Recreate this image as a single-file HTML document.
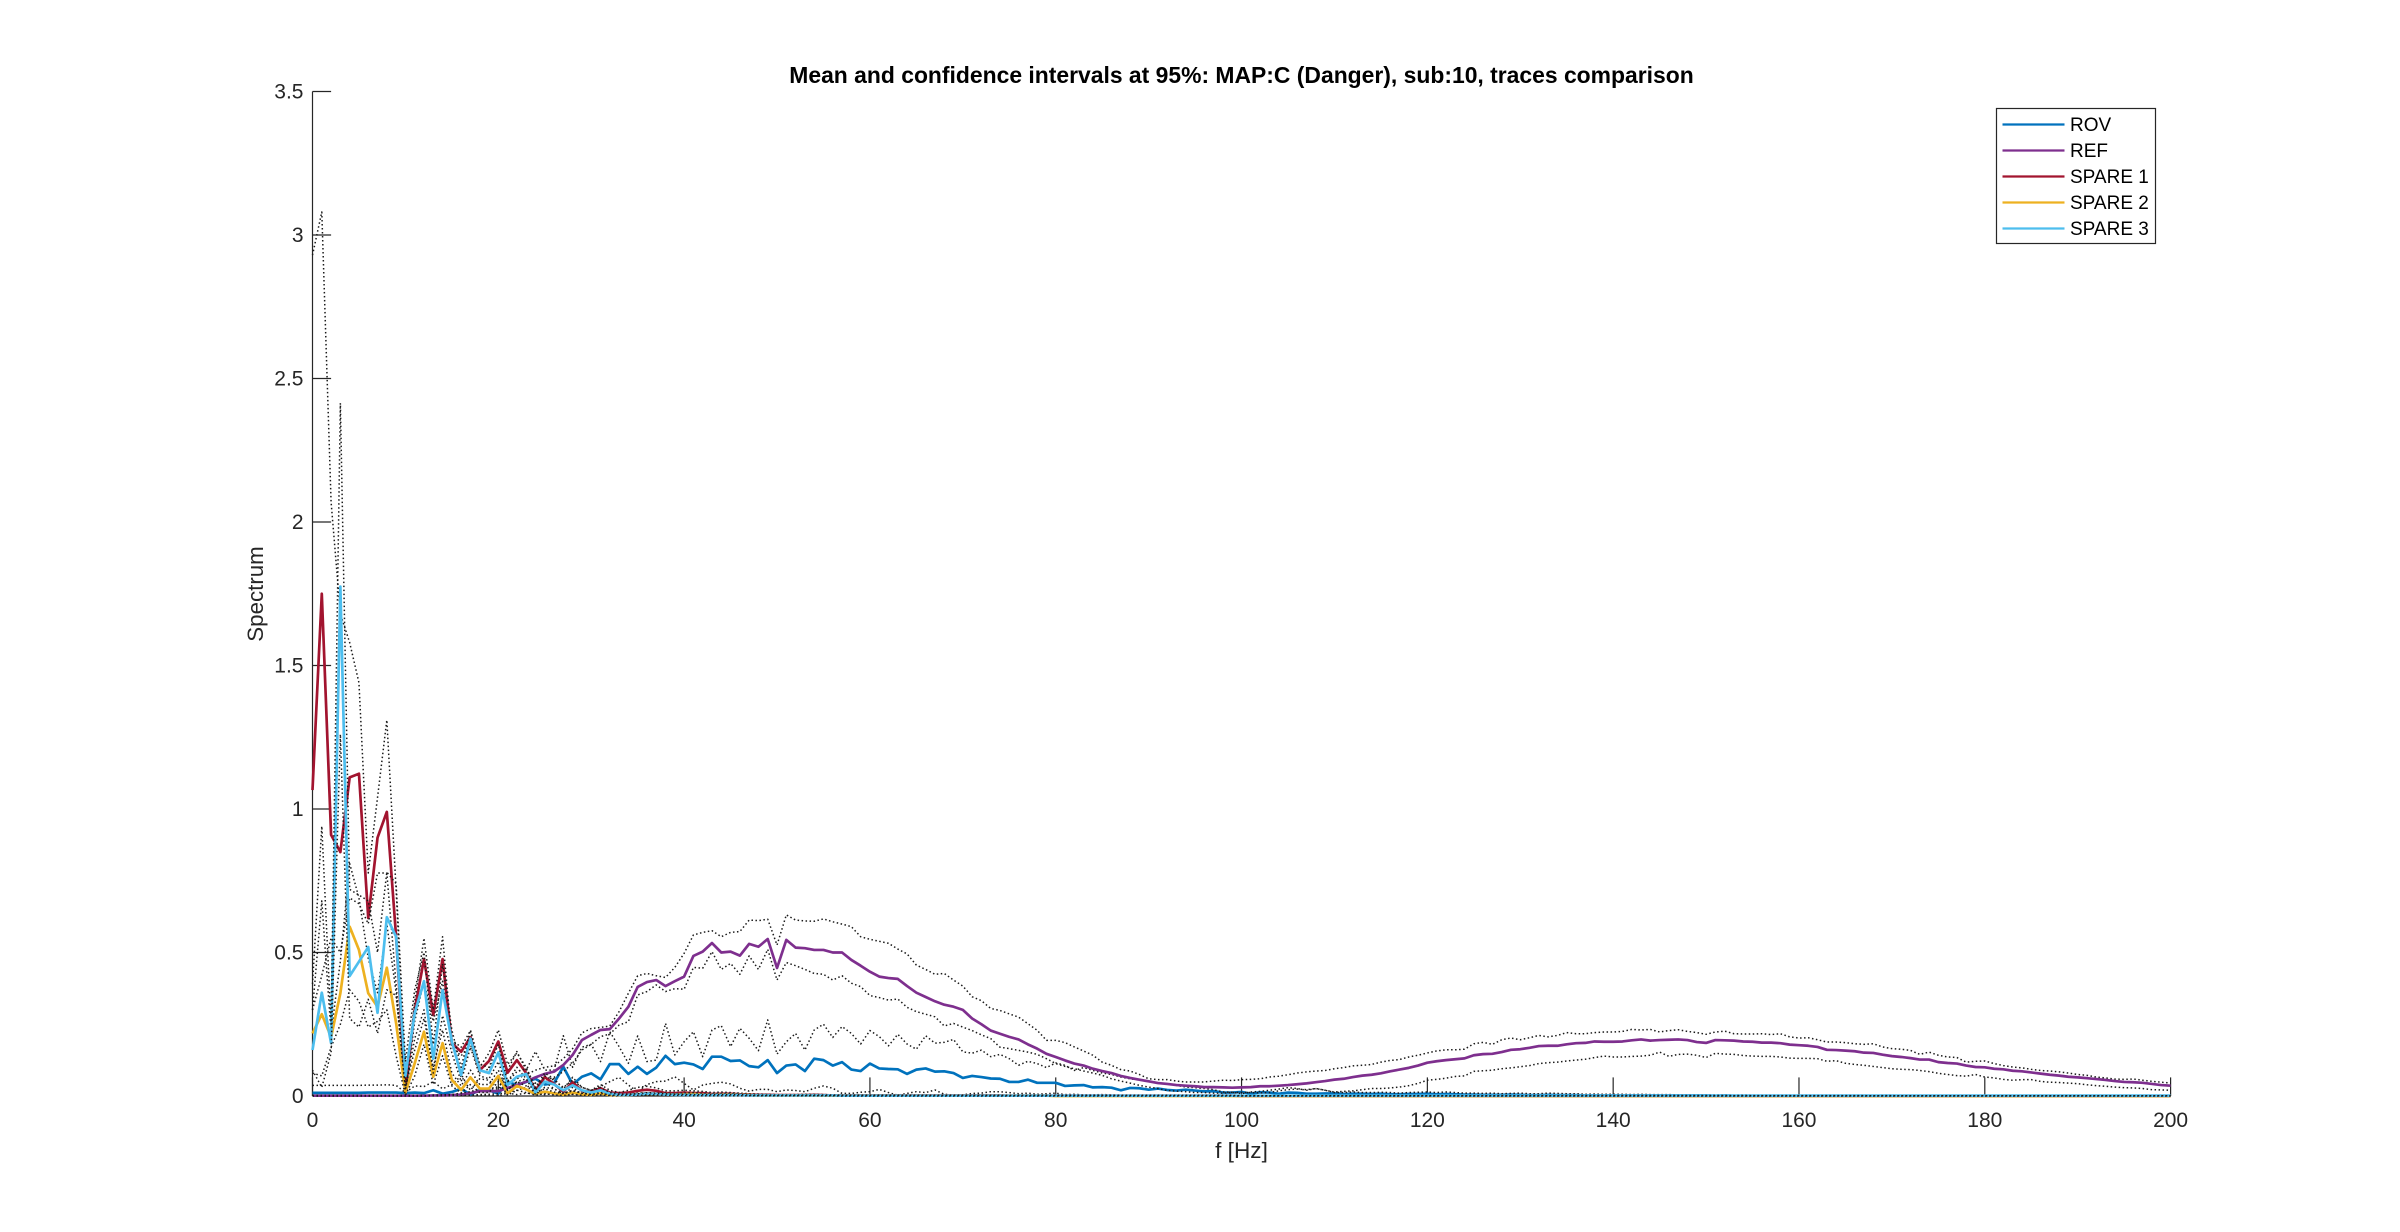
<!DOCTYPE html>
<html>
<head>
<meta charset="utf-8">
<title>Spectrum comparison</title>
<style>
html,body{margin:0;padding:0;background:#fff;}
svg{display:block;font-family:"Liberation Sans",Arial,sans-serif;}
</style>
</head>
<body>
<svg id="chart" xmlns="http://www.w3.org/2000/svg" width="2400" height="1232" viewBox="0 0 2400 1232">
<rect x="0" y="0" width="2400" height="1232" fill="#fff"/>
<text x="1241.5" y="83" text-anchor="middle" font-size="22.9" font-weight="bold" fill="#000">Mean and confidence intervals at 95%: MAP:C (Danger), sub:10, traces comparison</text>
<text x="1241.5" y="1158" text-anchor="middle" font-size="22.6" fill="#262626">f [Hz]</text>
<text transform="translate(263,594) rotate(-90)" text-anchor="middle" font-size="22.3" fill="#262626">Spectrum</text>
<g id="axes"></g>
<g id="marks"></g>
<g>
<rect x="1996.5" y="108.5" width="159" height="135" fill="#fff" stroke="#262626" stroke-width="1.2"/>
<g><line x1="2002.5" y1="124.5" x2="2064.5" y2="124.5" stroke="#0072BD" stroke-width="2.2"/><text x="2070" y="131" font-size="19" fill="#000">ROV</text></g>
<g><line x1="2002.5" y1="150.5" x2="2064.5" y2="150.5" stroke="#7E2F8E" stroke-width="2.2"/><text x="2070" y="157" font-size="19" fill="#000">REF</text></g>
<g><line x1="2002.5" y1="176.5" x2="2064.5" y2="176.5" stroke="#A2142F" stroke-width="2.2"/><text x="2070" y="183" font-size="19" fill="#000">SPARE 1</text></g>
<g><line x1="2002.5" y1="202.5" x2="2064.5" y2="202.5" stroke="#EDB120" stroke-width="2.2"/><text x="2070" y="209" font-size="19" fill="#000">SPARE 2</text></g>
<g><line x1="2002.5" y1="228.5" x2="2064.5" y2="228.5" stroke="#4DBEEE" stroke-width="2.2"/><text x="2070" y="235" font-size="19" fill="#000">SPARE 3</text></g>
</g>
</svg>
<script>
const xTickValues = [0,20,40,60,80,100,120,140,160,180,200];
const yTickValues = [0,0.5,1,1.5,2,2.5,3,3.5];
const yTickLabels = ["0","0.5","1","1.5","2","2.5","3","3.5"];

const frequencies = [
0,1,2,3,4,5,6,7,8,9,10,11,12,13,14,15,16,17,18,19,
20,21,22,23,24,25,26,27,28,29,30,31,32,33,34,35,36,37,38,39,
40,41,42,43,44,45,46,47,48,49,50,51,52,53,54,55,56,57,58,59,
60,61,62,63,64,65,66,67,68,69,70,71,72,73,74,75,76,77,78,79,
80,81,82,83,84,85,86,87,88,89,90,91,92,93,94,95,96,97,98,99,
100,101,102,103,104,105,106,107,108,109,110,111,112,113,114,115,116,117,118,119,
120,121,122,123,124,125,126,127,128,129,130,131,132,133,134,135,136,137,138,139,
140,141,142,143,144,145,146,147,148,149,150,151,152,153,154,155,156,157,158,159,
160,161,162,163,164,165,166,167,168,169,170,171,172,173,174,175,176,177,178,179,
180,181,182,183,184,185,186,187,188,189,190,191,192,193,194,195,196,197,198,199,200];

const rovMean = [
.011,.011,.011,.011,.011,.011,.012,.012,.012,.012,
.01,.012,.01,.02,.008,.014,.025,.005,.02,.02,
.008,.049,.038,.049,.06,.04,.045,.102,.04,.067,
.079,.058,.111,.111,.077,.102,.077,.099,.14,.111,
.116,.11,.094,.137,.137,.122,.124,.104,.1,.125,
.08,.106,.11,.087,.13,.125,.106,.118,.092,.087,
.113,.096,.094,.093,.077,.092,.096,.085,.086,.08,
.063,.07,.066,.061,.06,.049,.049,.057,.046,.046,
.046,.035,.037,.038,.03,.031,.029,.02,.028,.027,
.022,.026,.021,.019,.022,.019,.016,.017,.012,.012,
.014,.008,.013,.012,.008,.012,.011,.008,.008,.009,
.009,.007,.008,.008,.007,.008,.006,.006,.007,.007,
.008,.006,.007,.006,.005,.005,.004,.004,.004,.005,
.004,.003,.003,.004,.003,.003,.003,.002,.002,.002,
.002,.002,.002,.002,.002,.002,.002,.002,.002,.002,
.002,.001,.002,.001,.001,.001,.001,.001,.001,.001,
.001,.001,.001,.001,.001,.001,.001,.001,.001,.001,
.001,.001,.001,.001,.001,.001,.001,.001,.001,.001,
.001,.001,.001,.001,.001,.001,.001,.001,.001,.001,
.001,.001,.001,.001,.001,.001,.001,.001,.001,.001,.001];
const rovUpper = [
.037,.037,.037,.037,.037,.037,.038,.038,.039,.037,
.012,.035,.033,.05,.025,.04,.07,.02,.06,.055,
.025,.09,.155,.09,.155,.09,.09,.21,.1,.17,
.18,.12,.224,.172,.114,.209,.12,.125,.253,.143,
.189,.224,.137,.23,.245,.172,.236,.201,.158,.265,
.146,.189,.218,.16,.23,.25,.204,.242,.218,.181,
.228,.207,.175,.215,.181,.163,.21,.184,.187,.197,
.154,.149,.16,.137,.145,.13,.107,.121,.113,.099,
.115,.107,.089,.099,.089,.08,.075,.066,.06,.055,
.052,.045,.043,.037,.031,.029,.026,.022,.014,.013,
.008,.014,.016,.02,.024,.029,.026,.02,.026,.02,
.012,.012,.014,.012,.012,.013,.012,.01,.012,.013,
.014,.012,.014,.012,.01,.01,.009,.01,.008,.009,
.01,.008,.008,.01,.009,.008,.008,.006,.007,.006,
.006,.006,.005,.006,.005,.005,.005,.004,.004,.004,
.004,.004,.004,.003,.004,.003,.003,.003,.003,.003,
.003,.003,.003,.003,.003,.003,.003,.003,.002,.003,
.003,.002,.002,.002,.002,.002,.002,.002,.002,.002,
.002,.002,.002,.002,.002,.002,.002,.002,.002,.002,
.002,.002,.002,.002,.002,.002,.002,.002,.002,.002,.002];
const rovLower = [
.002,.002,.002,.002,.002,.002,.002,.002,.002,.002,
.002,.002,.001,.003,.001,.002,.004,.001,.003,.003,
.001,.01,.005,.01,.008,.005,.008,.015,.006,.01,
.02,.033,.05,.065,.038,.015,.04,.05,.052,.067,
.044,.021,.038,.044,.048,.042,.027,.017,.023,.023,
.015,.021,.019,.015,.027,.035,.027,.009,.009,.013,
.015,.023,.012,.003,.009,.015,.012,.021,.006,.003,
.004,.009,.01,.015,.015,.012,.008,.01,.006,.008,
.01,.005,.006,.004,.004,.005,.004,.003,.003,.003,
.003,.003,.003,.002,.003,.002,.002,.002,.002,.002,
.002,.001,.002,.002,.001,.002,.002,.001,.001,.001,
.001,.001,.001,.001,.001,.001,.001,.001,.001,.001,
.001,.001,.001,.001,.001,.001,.001,.001,.001,.001,
.001,.001,.001,.001,.001,.001,.001,.001,.001,.001,
0,0,0,0,0,0,0,0,0,0,
0,0,0,0,0,0,0,0,0,0,
0,0,0,0,0,0,0,0,0,0,
0,0,0,0,0,0,0,0,0,0,
0,0,0,0,0,0,0,0,0,0,
0,0,0,0,0,0,0,0,0,0,0];

const refMean = [
.001,.001,.001,.001,.001,.001,.001,.001,.001,.001,
.001,.001,.001,.002,.002,.003,.005,.01,.017,.017,
.017,.028,.038,.05,.065,.077,.085,.108,.143,.195,
.213,.23,.233,.27,.311,.38,.397,.404,.383,.4,
.416,.488,.503,.533,.5,.503,.489,.53,.52,.547,
.446,.544,.517,.515,.509,.509,.5,.5,.474,.454,
.433,.416,.411,.408,.383,.36,.345,.33,.318,.311,
.3,.27,.25,.228,.217,.206,.197,.18,.165,.147,
.136,.124,.113,.106,.095,.087,.08,.07,.063,.057,
.051,.045,.042,.038,.036,.034,.031,.031,.03,.029,
.03,.031,.034,.034,.036,.038,.041,.044,.048,.052,
.057,.06,.066,.071,.074,.079,.086,.092,.098,.106,
.116,.121,.125,.128,.131,.142,.146,.147,.153,.161,
.163,.168,.174,.175,.175,.18,.184,.185,.19,.189,
.189,.19,.194,.197,.193,.195,.196,.197,.195,.188,
.185,.195,.194,.193,.19,.189,.186,.186,.184,.179,
.177,.175,.171,.161,.16,.158,.156,.151,.15,.144,
.139,.136,.132,.127,.127,.118,.115,.113,.106,.101,
.1,.095,.093,.088,.086,.082,.078,.074,.071,.067,
.065,.062,.059,.056,.052,.049,.048,.046,.042,.038,.036];
const refUpper = [
.002,.002,.002,.002,.002,.002,.002,.002,.002,.002,
.002,.002,.002,.003,.004,.005,.01,.015,.025,.025,
.025,.04,.06,.075,.09,.1,.105,.13,.165,.22,
.235,.239,.244,.294,.358,.419,.427,.419,.413,.448,
.497,.561,.57,.576,.555,.57,.573,.613,.611,.616,
.526,.631,.613,.61,.609,.617,.607,.599,.59,.555,
.546,.539,.532,.512,.495,.456,.441,.424,.427,.404,
.383,.346,.332,.305,.298,.286,.275,.252,.229,.194,
.194,.186,.171,.157,.142,.118,.107,.092,.087,.075,
.06,.057,.057,.052,.049,.049,.049,.052,.055,.054,
.057,.058,.06,.066,.069,.074,.08,.084,.087,.089,
.095,.099,.105,.107,.11,.118,.124,.127,.136,.142,
.15,.157,.161,.161,.163,.182,.187,.18,.196,.202,
.196,.203,.211,.206,.211,.221,.217,.217,.221,.223,
.223,.225,.232,.23,.232,.223,.228,.231,.225,.221,
.215,.223,.226,.217,.216,.216,.217,.214,.217,.206,
.202,.203,.196,.188,.188,.186,.182,.18,.182,.171,
.165,.163,.159,.145,.153,.142,.136,.134,.118,.121,
.122,.113,.106,.101,.098,.093,.089,.087,.084,.08,
.075,.072,.066,.063,.059,.058,.059,.055,.051,.048,.045];
const refLower = [
0,0,0,0,0,0,0,0,0,0,
0,0,0,.001,.001,.001,.002,.003,.005,.006,
.008,.012,.02,.03,.045,.055,.065,.085,.115,.16,
.18,.207,.216,.247,.259,.352,.364,.387,.364,.374,
.372,.448,.445,.503,.441,.462,.424,.488,.441,.511,
.404,.465,.454,.441,.427,.424,.404,.419,.393,.381,
.35,.343,.334,.338,.309,.294,.285,.276,.244,.253,
.24,.228,.213,.2,.17,.165,.159,.153,.145,.13,
.113,.103,.095,.087,.08,.072,.06,.052,.045,.037,
.031,.026,.019,.017,.015,.012,.012,.01,.01,.012,
.013,.012,.011,.012,.018,.022,.024,.022,.026,.02,
.014,.016,.018,.022,.026,.026,.028,.031,.036,.044,
.055,.058,.062,.068,.07,.086,.088,.09,.095,.098,
.102,.106,.113,.116,.118,.122,.125,.128,.134,.139,
.136,.136,.138,.139,.142,.153,.138,.145,.146,.142,
.134,.149,.146,.145,.141,.139,.138,.138,.136,.132,
.131,.131,.13,.121,.123,.114,.11,.107,.103,.099,
.095,.093,.092,.089,.085,.079,.075,.071,.069,.075,
.066,.063,.058,.055,.057,.057,.051,.048,.047,.045,
.043,.039,.036,.034,.031,.029,.028,.026,.022,.021,.02];

const spare1Mean = [
1.066,1.75,.91,.85,1.11,1.123,.62,.9,.99,.555,
.02,.3,.477,.282,.477,.184,.154,.205,.09,.122,
.19,.081,.125,.08,.02,.066,.042,.015,.048,.018,
.015,.027,.012,.01,.012,.018,.022,.018,.01,.01,
.012,.01,.01,.007,.008,.008,.006,.005,.004,.004,
.003,.003,.003,.003,.004,.003,.002,.002,.002,.002,
.002,.002,.002,.002,.002,.002,.002,.002,.002,.002,
.002,.002,.002,.002,.002,.001,.001,.001,.001,.001,
.001,.001,.001,.001,.001,.001,.001,.001,.001,.001,
.001,.001,.001,.001,.001,.001,.001,.001,.001,.001,
0,0,0,0,0,0,0,0,0,0,
0,0,0,0,0,0,0,0,0,0,
0,0,0,0,0,0,0,0,0,0,
0,0,0,0,0,0,0,0,0,0,
0,0,0,0,0,0,0,0,0,0,
0,0,0,0,0,0,0,0,0,0,
0,0,0,0,0,0,0,0,0,0,
0,0,0,0,0,0,0,0,0,0,
0,0,0,0,0,0,0,0,0,0,
0,0,0,0,0,0,0,0,0,0,0];
const spare1Upper = [
2.93,3.08,2.07,1.68,1.58,1.44,.777,1.04,1.31,.72,
.04,.33,.55,.3,.555,.195,.17,.228,.1,.15,
.23,.11,.15,.1,.03,.08,.06,.025,.065,.03,
.02,.04,.02,.012,.02,.03,.034,.028,.018,.018,
.02,.018,.016,.012,.014,.012,.01,.008,.007,.006,
.005,.005,.005,.006,.006,.005,.004,.004,.004,.004,
.004,.004,.004,.004,.003,.003,.003,.003,.003,.003,
.003,.003,.003,.003,.003,.002,.002,.002,.002,.002,
.002,.002,.002,.002,.002,.002,.002,.002,.002,.002,
.002,.002,.002,.002,.002,.002,.002,.002,.002,.002,
.001,.001,.001,.001,.001,.001,.001,.001,.001,.001,
.001,.001,.001,.001,.001,.001,.001,.001,.001,.001,
.001,.001,.001,.001,.001,.001,.001,.001,.001,.001,
0,0,0,0,0,0,0,0,0,0,
0,0,0,0,0,0,0,0,0,0,
0,0,0,0,0,0,0,0,0,0,
0,0,0,0,0,0,0,0,0,0,
0,0,0,0,0,0,0,0,0,0,
0,0,0,0,0,0,0,0,0,0,
0,0,0,0,0,0,0,0,0,0,0];
const spare1Lower = [
.3,.42,.55,.5,.69,.67,.6,.777,.777,.39,
.005,.26,.4,.26,.4,.17,.14,.18,.08,.095,
.15,.05,.1,.06,.01,.05,.025,.006,.03,.006,
.008,.012,.005,.005,.006,.008,.01,.008,.004,.004,
.005,.004,.004,.003,.003,.003,.002,.002,.002,.002,
.001,.001,.001,.001,.001,.001,.001,.001,.001,.001,
.001,.001,.001,.001,.001,.001,.001,.001,.001,.001,
0,0,0,0,0,0,0,0,0,0,
0,0,0,0,0,0,0,0,0,0,
0,0,0,0,0,0,0,0,0,0,
0,0,0,0,0,0,0,0,0,0,
0,0,0,0,0,0,0,0,0,0,
0,0,0,0,0,0,0,0,0,0,
0,0,0,0,0,0,0,0,0,0,
0,0,0,0,0,0,0,0,0,0,
0,0,0,0,0,0,0,0,0,0,
0,0,0,0,0,0,0,0,0,0,
0,0,0,0,0,0,0,0,0,0,
0,0,0,0,0,0,0,0,0,0,
0,0,0,0,0,0,0,0,0,0,0];

const spare2Mean = [
.218,.285,.205,.358,.59,.509,.358,.311,.447,.254,
.012,.114,.224,.067,.184,.056,.021,.065,.026,.026,
.07,.009,.035,.023,.007,.015,.009,.004,.012,.006,
.004,.009,.003,.003,.004,.006,.007,.006,.006,.005,
.006,.007,.005,.004,.005,.005,.004,.003,.002,.002,
.002,.002,.002,.002,.002,.001,.001,.001,.001,.001,
.001,.001,.001,.001,.001,.001,.001,.001,.001,.001,
.001,.001,.001,.001,.001,.001,.001,.001,.001,.001,
0,0,0,0,0,0,0,0,0,0,
0,0,0,0,0,0,0,0,0,0,
0,0,0,0,0,0,0,0,0,0,
0,0,0,0,0,0,0,0,0,0,
0,0,0,0,0,0,0,0,0,0,
0,0,0,0,0,0,0,0,0,0,
0,0,0,0,0,0,0,0,0,0,
0,0,0,0,0,0,0,0,0,0,
0,0,0,0,0,0,0,0,0,0,
0,0,0,0,0,0,0,0,0,0,
0,0,0,0,0,0,0,0,0,0,
0,0,0,0,0,0,0,0,0,0,0];
const spare2Upper = [
.3,.68,.22,.47,.81,.69,.48,.36,.6,.36,
.03,.16,.27,.1,.23,.08,.035,.09,.04,.04,
.09,.02,.05,.035,.012,.025,.014,.008,.018,.01,
.008,.014,.005,.005,.006,.01,.012,.01,.01,.008,
.01,.012,.008,.007,.008,.008,.006,.005,.004,.004,
.003,.003,.003,.003,.003,.002,.002,.002,.002,.002,
.002,.002,.002,.002,.002,.002,.002,.002,.002,.002,
.002,.002,.002,.002,.002,.002,.002,.002,.002,.002,
.001,.001,.001,.001,.001,.001,.001,.001,.001,.001,
.001,.001,.001,.001,.001,.001,.001,.001,.001,.001,
0,0,0,0,0,0,0,0,0,0,
0,0,0,0,0,0,0,0,0,0,
0,0,0,0,0,0,0,0,0,0,
0,0,0,0,0,0,0,0,0,0,
0,0,0,0,0,0,0,0,0,0,
0,0,0,0,0,0,0,0,0,0,
0,0,0,0,0,0,0,0,0,0,
0,0,0,0,0,0,0,0,0,0,
0,0,0,0,0,0,0,0,0,0,
0,0,0,0,0,0,0,0,0,0,0];
const spare2Lower = [
.08,.07,.17,.25,.37,.33,.24,.26,.3,.14,
.003,.07,.18,.04,.14,.035,.01,.04,.012,.012,
.05,.003,.02,.012,.003,.008,.004,.002,.006,.003,
.002,.004,.001,.001,.002,.003,.003,.003,.003,.002,
.003,.003,.002,.002,.002,.002,.002,.001,.001,.001,
.001,.001,.001,.001,.001,0,0,0,0,0,
0,0,0,0,0,0,0,0,0,0,
0,0,0,0,0,0,0,0,0,0,
0,0,0,0,0,0,0,0,0,0,
0,0,0,0,0,0,0,0,0,0,
0,0,0,0,0,0,0,0,0,0,
0,0,0,0,0,0,0,0,0,0,
0,0,0,0,0,0,0,0,0,0,
0,0,0,0,0,0,0,0,0,0,
0,0,0,0,0,0,0,0,0,0,
0,0,0,0,0,0,0,0,0,0,
0,0,0,0,0,0,0,0,0,0,
0,0,0,0,0,0,0,0,0,0,
0,0,0,0,0,0,0,0,0,0,
0,0,0,0,0,0,0,0,0,0,0];

const spare3Mean = [
.16,.36,.184,1.775,.418,.468,.519,.29,.623,.555,
.07,.289,.4,.13,.369,.19,.073,.2,.09,.08,
.152,.038,.067,.077,.012,.05,.04,.02,.037,.02,
.012,.02,.008,.004,.004,.005,.008,.007,.005,.004,
.004,.003,.003,.003,.003,.003,.003,.002,.002,.002,
.002,.002,.002,.002,.002,.002,.002,.001,.001,.001,
.001,.001,.001,.001,.001,.001,.001,.001,.001,.001,
.001,.001,.001,.001,.001,.001,.001,.001,.001,.001,
.001,.001,.001,.001,.001,.001,.001,.001,.001,.001,
.001,.001,.001,.001,.001,.001,.001,.001,.001,.001,
.001,.001,.001,.001,.001,.001,.001,.001,.001,.001,
.001,.001,.001,.001,.001,.001,.001,.001,.001,.001,
.001,.001,.001,.001,.001,.001,.001,.001,.001,.001,
.001,.001,.001,.001,.001,.001,.001,.001,.001,.001,
.001,.001,.001,.001,.001,.001,.001,.001,.001,.001,
.001,.001,.001,.001,.001,.001,.001,.001,.001,.001,
.001,.001,.001,.001,.001,.001,.001,.001,.001,.001,
.001,.001,.001,.001,.001,.001,.001,.001,.001,.001,
.001,.001,.001,.001,.001,.001,.001,.001,.001,.001,
.001,.001,.001,.001,.001,.001,.001,.001,.001,.001,.001];
const spare3Upper = [
.39,.94,.25,2.414,.72,.7,.68,.5,.78,.74,
.12,.37,.5,.18,.46,.23,.1,.23,.11,.1,
.18,.05,.085,.095,.02,.07,.055,.03,.055,.03,
.02,.03,.012,.006,.006,.008,.012,.01,.008,.006,
.006,.005,.005,.005,.005,.005,.005,.003,.003,.003,
.003,.003,.003,.003,.003,.003,.003,.002,.002,.002,
.002,.002,.002,.002,.002,.002,.002,.002,.002,.002,
.002,.002,.002,.002,.002,.002,.002,.002,.002,.002,
.002,.002,.002,.002,.002,.002,.002,.002,.002,.002,
.002,.002,.002,.002,.002,.002,.002,.002,.002,.002,
.001,.001,.001,.001,.001,.001,.001,.001,.001,.001,
.001,.001,.001,.001,.001,.001,.001,.001,.001,.001,
.001,.001,.001,.001,.001,.001,.001,.001,.001,.001,
.001,.001,.001,.001,.001,.001,.001,.001,.001,.001,
.001,.001,.001,.001,.001,.001,.001,.001,.001,.001,
.001,.001,.001,.001,.001,.001,.001,.001,.001,.001,
.001,.001,.001,.001,.001,.001,.001,.001,.001,.001,
.001,.001,.001,.001,.001,.001,.001,.001,.001,.001,
.001,.001,.001,.001,.001,.001,.001,.001,.001,.001,
.001,.001,.001,.001,.001,.001,.001,.001,.001,.001,.001];
const spare3Lower = [
.09,.03,.15,1.26,.27,.24,.337,.218,.37,.35,
.02,.2,.3,.08,.28,.15,.05,.17,.07,.06,
.12,.02,.05,.06,.005,.03,.025,.01,.02,.01,
.005,.01,.003,.002,.002,.002,.004,.004,.002,.002,
.002,.001,.001,.001,.001,.001,.001,.001,.001,.001,
.001,.001,.001,.001,.001,.001,.001,0,0,0,
0,0,0,0,0,0,0,0,0,0,
0,0,0,0,0,0,0,0,0,0,
0,0,0,0,0,0,0,0,0,0,
0,0,0,0,0,0,0,0,0,0,
0,0,0,0,0,0,0,0,0,0,
0,0,0,0,0,0,0,0,0,0,
0,0,0,0,0,0,0,0,0,0,
0,0,0,0,0,0,0,0,0,0,
0,0,0,0,0,0,0,0,0,0,
0,0,0,0,0,0,0,0,0,0,
0,0,0,0,0,0,0,0,0,0,
0,0,0,0,0,0,0,0,0,0,
0,0,0,0,0,0,0,0,0,0,
0,0,0,0,0,0,0,0,0,0,0];

const SVG_NS = "http://www.w3.org/2000/svg";
const X0 = 312.5, X1 = 2170.6, Y0 = 1096, Y1 = 91.5;
const X_MIN = 0, X_MAX = 200, Y_MIN = 0, Y_MAX = 3.5;
function xScale(v) { return X0 + (v - X_MIN) / (X_MAX - X_MIN) * (X1 - X0); }
function yScale(v) { return Y0 - (v - Y_MIN) / (Y_MAX - Y_MIN) * (Y0 - Y1); }

function pointsFor(values) {
  return values.map(function (v, i) {
    return xScale(frequencies[i]).toFixed(2) + "," + yScale(v).toFixed(2);
  }).join(" ");
}

const marks = document.getElementById("marks");
function addLine(name, values, color, width, dash) {
  const el = document.createElementNS(SVG_NS, "polyline");
  
  
  el.setAttribute("points", pointsFor(values));
  el.setAttribute("fill", "none");
  el.setAttribute("stroke", color);
  el.setAttribute("stroke-width", width);
  el.setAttribute("stroke-linejoin", "round");
  if (dash) el.setAttribute("stroke-dasharray", dash);
  marks.appendChild(el);
}

const DOT = "#1a1a1a";
const DOT_W = 1.5;
const DOT_DASH = "1.5 2.5";
const MEAN_W = 2.7;

addLine("rov-mean-line", rovMean, "#0072BD", MEAN_W);
addLine("rov-upper-ci-line", rovUpper, DOT, DOT_W, DOT_DASH);
addLine("rov-lower-ci-line", rovLower, DOT, DOT_W, DOT_DASH);
addLine("ref-mean-line", refMean, "#7E2F8E", MEAN_W);
addLine("ref-upper-ci-line", refUpper, DOT, DOT_W, DOT_DASH);
addLine("ref-lower-ci-line", refLower, DOT, DOT_W, DOT_DASH);
addLine("spare-1-mean-line", spare1Mean, "#A2142F", MEAN_W);
addLine("spare-1-upper-ci-line", spare1Upper, DOT, DOT_W, DOT_DASH);
addLine("spare-1-lower-ci-line", spare1Lower, DOT, DOT_W, DOT_DASH);
addLine("spare-2-mean-line", spare2Mean, "#EDB120", MEAN_W);
addLine("spare-2-upper-ci-line", spare2Upper, DOT, DOT_W, DOT_DASH);
addLine("spare-2-lower-ci-line", spare2Lower, DOT, DOT_W, DOT_DASH);
addLine("spare-3-mean-line", spare3Mean, "#4DBEEE", MEAN_W);
addLine("spare-3-upper-ci-line", spare3Upper, DOT, DOT_W, DOT_DASH);
addLine("spare-3-lower-ci-line", spare3Lower, DOT, DOT_W, DOT_DASH);

const axes = document.getElementById("axes");
function addRule(name, x1, y1, x2, y2) {
  const el = document.createElementNS(SVG_NS, "line");
  
  
  el.setAttribute("x1", x1);
  el.setAttribute("y1", y1);
  el.setAttribute("x2", x2);
  el.setAttribute("y2", y2);
  el.setAttribute("stroke", "#262626");
  el.setAttribute("stroke-width", "1.2");
  axes.appendChild(el);
}
function addLabel(name, x, y, anchor, str) {
  const el = document.createElementNS(SVG_NS, "text");
  
  
  el.setAttribute("x", x);
  el.setAttribute("y", y);
  el.setAttribute("text-anchor", anchor);
  el.setAttribute("font-size", "21");
  el.setAttribute("fill", "#262626");
  el.textContent = str;
  axes.appendChild(el);
}

addRule("y-axis-line", X0, Y1, X0, Y0);
addRule("x-axis-line", X0, Y0, X1, Y0);
const TICK_LEN = 18.6;
xTickValues.forEach(function (v) {
  const px = xScale(v);
  addRule("x-tick-" + v, px, Y0, px, Y0 - TICK_LEN);
  addLabel("x-tick-label-" + v, px, Y0 + 31, "middle", String(v));
});
yTickValues.forEach(function (v, i) {
  const py = yScale(v);
  addRule("y-tick-" + yTickLabels[i], X0, py, X0 + TICK_LEN, py);
  addLabel("y-tick-label-" + yTickLabels[i], X0 - 9, py + 7, "end", yTickLabels[i]);
});
</script>
</body>
</html>
